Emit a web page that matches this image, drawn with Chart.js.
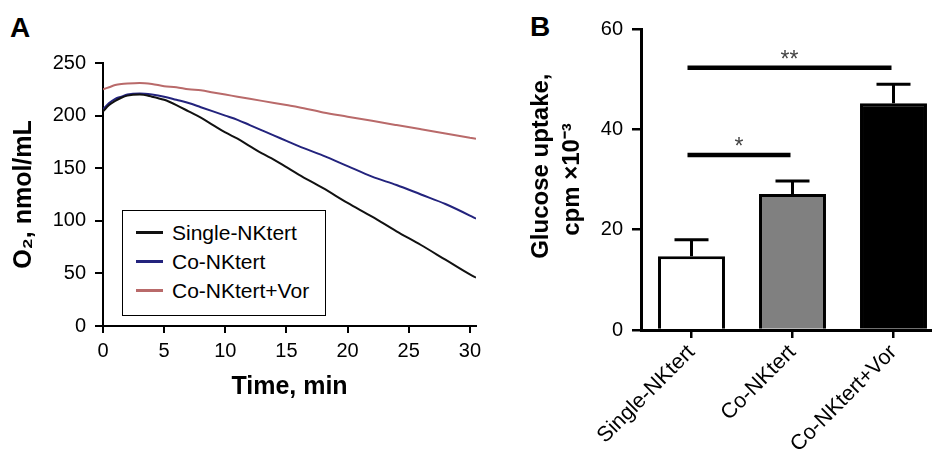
<!DOCTYPE html>
<html>
<head>
<meta charset="utf-8">
<script src="https://cdn.jsdelivr.net/npm/chart.js@4.4.1/dist/chart.umd.min.js"></script>
<style>
  html, body { margin: 0; padding: 0; overflow: hidden; background: #fff; }
  body { width: 932px; height: 450px; position: relative; font-family: "Liberation Sans", Arial, sans-serif; }
  .panel-letter { position: absolute; font-size: 28px; font-weight: bold; line-height: 1; color: #000; }
  #chartA { position: absolute; left: 0; top: 0; }
  #chartB { position: absolute; left: 480px; top: 0; }
  #legendA { position: absolute; left: 122px; top: 210px; width: 202px; height: 97px; border: 1px solid #000; background: #fff; padding-top: 7px; box-sizing: content-box; }
  #legendA div { height: 29px; display: flex; align-items: center; font-size: 21px; color: #000; }
  #legendA span.swatch { display: inline-block; width: 27px; height: 2.5px; margin-left: 13px; margin-right: 9px; }
</style>
</head>
<body>
<div class="panel-letter" style="left:10px;top:14px">A</div>
<div class="panel-letter" style="left:530px;top:13px">B</div>
<canvas id="chartA" width="490" height="450"></canvas>
<div id="legendA"></div>
<canvas id="chartB" width="470" height="450"></canvas>
<script>
// Panel A: oxygen over time
const times = [0, 0.5, 1, 1.5, 2, 3, 4, 5, 6, 7, 8, 9, 10, 11, 12, 13, 14, 15, 16, 18, 20, 22, 24, 26, 28, 30, 30.5];
const singleNK = [204, 210, 214, 217, 219, 220, 218, 215, 210, 204, 198, 191, 184, 178, 171, 164, 158, 151, 144, 131, 117, 104, 90, 77, 63, 49, 46];
const coNK = [206, 212, 216, 218, 220, 221, 220, 218, 215, 212, 208, 204, 200, 196, 191, 186, 181, 176, 171, 162, 152, 142, 134, 125, 116, 105, 102];
const coNKVor = [225, 227, 229, 230, 230.5, 231, 230, 228, 227, 225, 224, 222, 220, 218, 216, 214, 212, 210, 208, 203, 199, 195, 191, 187, 183, 179, 178];
const timeTicks = [0, 5, 10, 15, 20, 25, 30];
const seriesNames = ["Single-NKtert", "Co-NKtert", "Co-NKtert+Vor"];
const seriesColors = ["#111111", "#23237d", "#b96a6a"];

// Panel B: glucose uptake
const categories = ["Single-NKtert", "Co-NKtert", "Co-NKtert+Vor"];
const uptake = [14.7, 27.1, 45.2];
const uptakeErr = [3.3, 2.6, 3.8];
const barColors = ["#ffffff", "#808080", "#000000"];
// significance bars: from category, to category, level, label
const sigFrom = [0, 0];
const sigTo = [1, 2];
const sigLevel = [34.9, 52.3];
const sigLabel = ["*", "**"];

Chart.defaults.font.family = '"Liberation Sans", Arial, sans-serif';
Chart.defaults.color = "#000";

function toPoints(values) {
  return values.map((v, i) => ({ x: times[i], y: v }));
}

const lineData = [singleNK, coNK, coNKVor];

new Chart(document.getElementById("chartA").getContext("2d"), {
  type: "line",
  data: {
    datasets: lineData.map((vals, i) => ({
      label: seriesNames[i],
      data: toPoints(vals),
      borderColor: seriesColors[i],
      borderWidth: 2,
      pointRadius: 0,
      cubicInterpolationMode: "monotone",
      fill: false
    }))
  },
  options: {
    responsive: false,
    animation: false,
    devicePixelRatio: 1,
    layout: { padding: { top: 63, right: 14, bottom: 0, left: 0 } },
    plugins: { legend: { display: false }, tooltip: { enabled: false } },
    scales: {
      x: {
        type: "linear",
        min: 0,
        max: 30.5,
        afterBuildTicks: (s) => { s.ticks = timeTicks.map(v => ({ value: v })); },
        afterFit: (s) => { s.height = 124; },
        ticks: { font: { size: 20 }, padding: 6, color: "#000" },
        grid: { drawOnChartArea: false, color: "#000", tickLength: 7, lineWidth: 2 },
        border: { color: "#000", width: 2 },
        title: { display: true, text: "Time, min", color: "#000", font: { size: 25, weight: "bold" }, padding: { top: 0, bottom: 48 } }
      },
      y: {
        min: 0,
        max: 250,
        afterFit: (s) => { s.width = 103; },
        ticks: { stepSize: 50, font: { size: 20 }, padding: 9, color: "#000" },
        grid: { drawOnChartArea: false, color: "#000", tickLength: 8, lineWidth: 2 },
        border: { color: "#000", width: 2 },
        title: { display: true, text: "O\u2082, nmol/mL", color: "#000", font: { size: 25, weight: "bold" }, padding: { top: 9, bottom: 0 } }
      }
    }
  }
});

// legend for panel A
const legendBox = document.getElementById("legendA");
seriesNames.forEach((name, i) => {
  const row = document.createElement("div");
  const sw = document.createElement("span");
  sw.className = "swatch";
  sw.style.background = seriesColors[i];
  row.appendChild(sw);
  row.appendChild(document.createTextNode(name));
  legendBox.appendChild(row);
});

// error bars and significance lines
const barExtras = {
  id: "barExtras",
  afterDatasetsDraw(chart) {
    const ctx = chart.ctx;
    const yScale = chart.scales.y;
    const xScale = chart.scales.x;
    const bars = chart.getDatasetMeta(0).data;
    ctx.save();
    ctx.strokeStyle = "#000";
    ctx.lineWidth = 3;
    bars.forEach((bar, i) => {
      const top = yScale.getPixelForValue(uptake[i] + uptakeErr[i]);
      ctx.beginPath();
      ctx.moveTo(bar.x, bar.y);
      ctx.lineTo(bar.x, top);
      ctx.moveTo(bar.x - 17, top);
      ctx.lineTo(bar.x + 17, top);
      ctx.stroke();
    });
    ctx.lineWidth = 4.5;
    ctx.fillStyle = "#444";
    ctx.font = '23px "Liberation Sans", Arial, sans-serif';
    ctx.textAlign = "center";
    ctx.textBaseline = "alphabetic";
    for (let i = 0; i < sigLevel.length; i++) {
      const y = yScale.getPixelForValue(sigLevel[i]);
      const x1 = xScale.getPixelForValue(sigFrom[i]) - 4;
      const x2 = xScale.getPixelForValue(sigTo[i]) - 2;
      ctx.beginPath();
      ctx.moveTo(x1, y);
      ctx.lineTo(x2, y);
      ctx.stroke();
      ctx.fillText(sigLabel[i], (x1 + x2) / 2, y - 1);
    }
    ctx.restore();
  }
};

new Chart(document.getElementById("chartB").getContext("2d"), {
  type: "bar",
  data: {
    labels: categories,
    datasets: [{
      data: uptake,
      backgroundColor: barColors,
      borderColor: "#000",
      borderWidth: 3,
      barPercentage: 0.663,
      categoryPercentage: 1
    }]
  },
  options: {
    responsive: false,
    animation: false,
    devicePixelRatio: 1,
    layout: { padding: { top: 29, right: 6, bottom: 0, left: 0 } },
    plugins: { legend: { display: false }, tooltip: { enabled: false } },
    scales: {
      x: {
        afterFit: (s) => { s.height = 120; },
        ticks: { font: { size: 21.5 }, minRotation: 45, maxRotation: 45, autoSkip: false, padding: 2, color: "#000" },
        grid: { drawOnChartArea: false, offset: false, color: "#000", tickLength: 8, lineWidth: 2.5 },
        border: { color: "#000", width: 3 }
      },
      y: {
        min: 0,
        max: 60,
        afterFit: (s) => { s.width = 161; },
        ticks: { stepSize: 20, font: { size: 20 }, padding: 9, color: "#000" },
        grid: { drawOnChartArea: false, color: "#000", tickLength: 9, lineWidth: 2.5 },
        border: { color: "#000", width: 3 },
        title: { display: true, text: ["    Glucose uptake,", "cpm \u00d710\u207b\u00b3"], color: "#000", font: { size: 24, weight: "bold", lineHeight: 1.3 }, padding: { top: 46, bottom: 0 } }
      }
    }
  },
  plugins: [barExtras]
});
</script>
</body>
</html>
